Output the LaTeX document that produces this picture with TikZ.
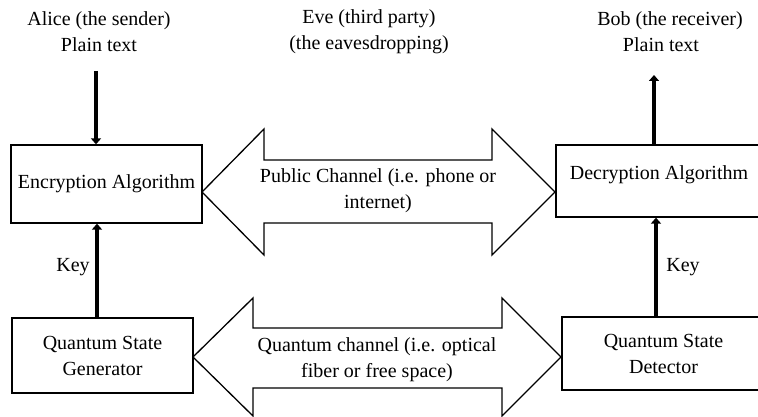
\documentclass[tikz,border=0pt]{standalone}
\usepackage{fontspec}
\setmainfont{Liberation Serif}
\usetikzlibrary{arrows.meta}
\begin{document}
\begin{tikzpicture}[x=1pt,y=-1pt,
  every node/.style={font=\fontsize{20}{26}\selectfont, text=black},
  box/.style={draw, line width=1.3pt, inner sep=0pt, align=center},
  lbl/.style={align=center, inner sep=0pt},
  fat/.style={draw, line width=1.3pt, line join=miter, fill=white},
  flow/.style={line width=4pt, -{Triangle[width=10pt,length=6pt]}}]
\useasboundingbox[fill=white] (0,0) rectangle (758,417);

% double-headed channel arrows
\draw[fat] (202,192) -- (264,129) -- (264,160) -- (492,160) -- (492,129)
  -- (555,192) -- (492,255) -- (492,223) -- (264,223) -- (264,255) -- cycle;
\draw[fat] (193,357) -- (253,298) -- (253,328) -- (502,328) -- (502,298)
  -- (561,357) -- (502,416) -- (502,388) -- (253,388) -- (253,416) -- cycle;

\node[lbl] (pub) at (378,191) {Public Channel (i.e. phone or\\internet)};
\node[lbl] (qch) at (377,360) {Quantum channel (i.e. optical\\fiber or free space)};

% boxes
\node[box, minimum width=191pt, minimum height=78pt] (enc) at (106.5,184) {Encryption Algorithm};
\node[box, minimum width=209pt, minimum height=72pt] (dec) at (660.5,181) {};
\node[lbl] (dect) at (659,175) {Decryption Algorithm};
\node[box, minimum width=181pt, minimum height=75pt] (gen) at (102.5,355.5) {Quantum State\\Generator};
\node[box, minimum width=203pt, minimum height=73pt] (det) at (663.5,353.5) {Quantum State\\Detector};

% parties
\node[lbl] (alice) at (99,31.5) {Alice (the sender)\\Plain text};
\node[lbl] (eve) at (369,31.5) {Eve (third party)\\(the eavesdropping)};
\node[lbl] (bob) at (670,31.5) {Bob (the receiver)\\\hspace*{-18pt}Plain text};

% plain text flows
\coordinate (ain) at (96,71);
\coordinate (bout) at (654,75);
\draw[flow] (ain) -- (ain |- enc.north);
\draw[flow] (bout |- dec.north) -- (bout);

% key flows
\draw[flow] ([xshift=-5.5pt]gen.north) -- ([xshift=-5.5pt]gen.north |- enc.south);
\draw[flow] ([xshift=-7.5pt]det.north) -- ([xshift=-7.5pt]det.north |- dec.south);
\node[lbl] (keyl) at (73,267) {Key};
\node[lbl] (keyr) at (683,267) {Key};
\end{tikzpicture}
\end{document}
